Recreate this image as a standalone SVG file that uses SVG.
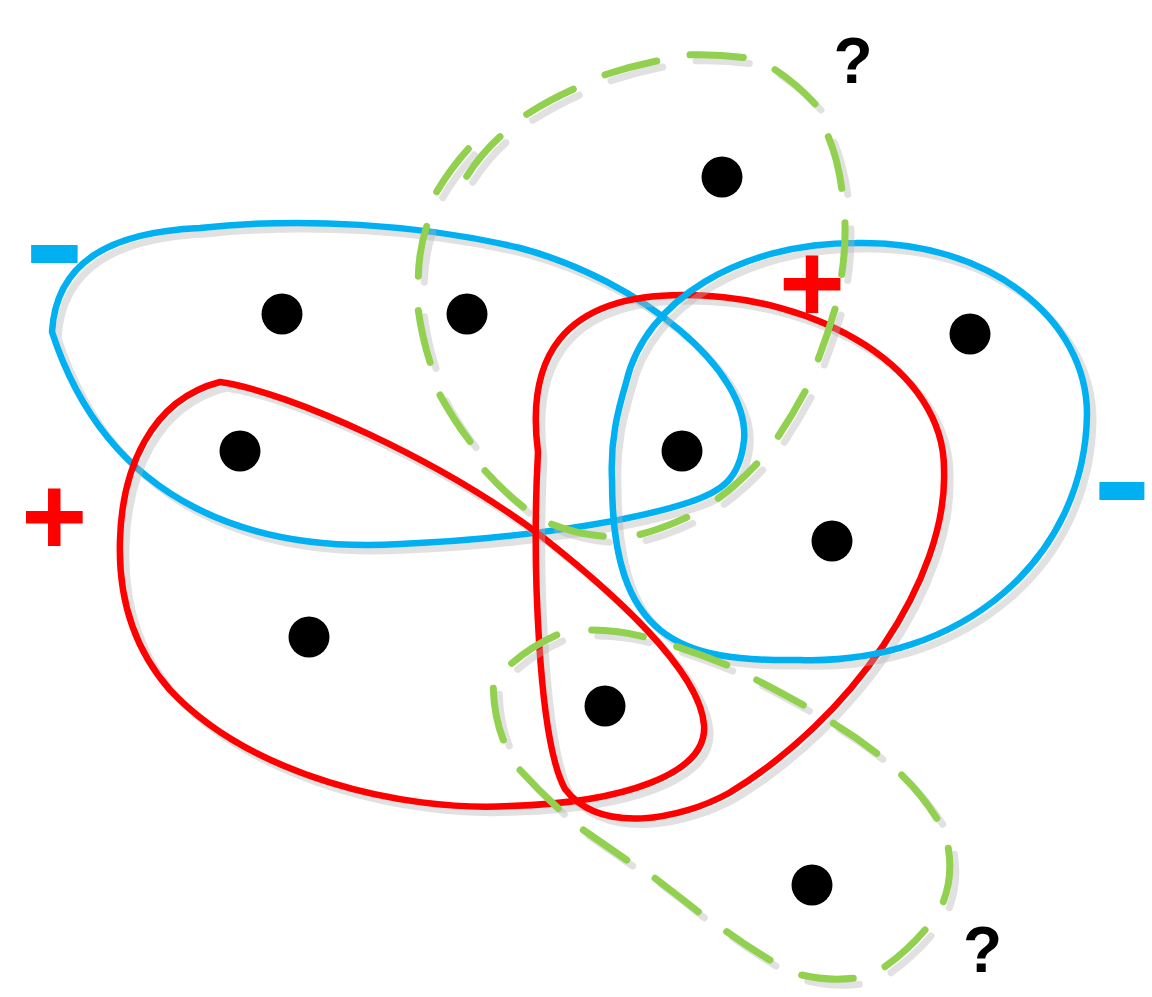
<svg xmlns="http://www.w3.org/2000/svg" xmlns:xlink="http://www.w3.org/1999/xlink" width="1152" height="997" viewBox="0 0 1152 997">
<style>
  .outline{fill:none;stroke-linecap:round;stroke-linejoin:round}
  .shadow{fill:none;stroke:#b4b4b4;stroke-opacity:0.4;stroke-width:7;stroke-linecap:round;stroke-linejoin:round}
  .blue{stroke:#00b0f0;stroke-width:6.5}
  .red{stroke:#ff0000;stroke-width:6.5}
  .green{stroke:#92d050;stroke-width:7}
  .dot{fill:#000000}
  .q{font-family:"Liberation Sans",Arial,sans-serif;font-weight:bold;font-size:64px;fill:#000000;text-anchor:middle}
  .plus{font-family:"Liberation Sans",Arial,sans-serif;font-weight:bold;font-size:113px;fill:#ff0000;text-anchor:middle}
  .minus{font-family:"Liberation Sans",Arial,sans-serif;font-weight:bold;font-size:150px;fill:#00b0f0;text-anchor:middle}
</style>
<defs>
  <path id="p-blue-left" d="M52,332 C56,262 110,232 200,228 C300,217 420,224 520,248 C640,280 750,370 744,440 C740,480 720,492 690,502 C620,525 500,540 400,544 C260,552 110,510 52,332 Z"/>
  <path id="p-red-left" d="M220,382 C290,392 440,460 540,535 C610,590 700,670 704,725 C708,775 620,803 510,806 C400,812 250,775 170,690 C135,650 118,600 120,540 C122,470 150,400 220,382 Z"/>
  <path id="p-red-right" d="M538,452 C526,360 560,295 683,295 C820,295 945,370 944,470 C948,580 850,720 729,793 C680,820 600,835 565,789 C538,740 532,560 538,452 Z"/>
  <path id="p-blue-right" d="M626,383 C645,300 740,243 856,243 C990,240 1087,320 1087,414 C1085,560 960,665 800,660 C680,662 612,640 612,480 C610,440 618,410 626,383 Z"/>
  <path id="p-green-top" d="M466.7,176.3 Q481,154 500,136.7 M526.7,114.4 Q549,100 573.3,89.2 M605,74.8 Q630,66.5 656.7,61 M690,54.8 Q717,54 743.3,57.5 M775,69.6 Q797,84 815,104 M828.3,136.7 Q838,160 841.7,188.4 M845,222.8 Q845.5,250 841.7,274.5 M835,309 Q828,334 818.3,358.9 M805,391.6 Q793,414 778.3,436.3 M756.7,463.9 Q739,483 718.3,498.3 M686.7,517.3 Q664,528 640,534.5 M603.3,536.2 Q577,534 551.7,524.2 M523.3,507 Q502,490 485,470.8 M470,441.5 Q453,419 440,395 M430,362.3 Q422,337 418.3,310.6 M418.3,276.2 Q419,250 426.7,226.3 M436.7,191.8 Q450,169 468.3,148.8"/>
  <path id="p-green-bottom" d="M511.7,663.3 Q532,646 556.7,635 M591.7,630 Q618,630 643.3,636.7 M676.7,646.7 Q702,655 726.7,665 M756.7,680 Q780,692 803.3,705 M833.3,723.3 Q856,737 876.7,753.3 M901.7,775 Q922,795 936.7,818.3 M948.3,848.3 Q953,876 943.3,901.7 M925,930 Q907,951 885,966.7 M853.3,978.3 Q827,981 801.7,975 M770,960 Q748,947 726.7,931.7 M698.3,911.7 Q677,895 655,878.3 M626.7,860 Q605,845 583.3,830 M558.3,808.3 Q538,790 520,770 M503.3,740 Q494,716 493.3,688.3"/>
</defs>
<rect x="0" y="0" width="1152" height="997" fill="#ffffff"/>

<g id="connectors">
  <g id="set-blue-left">
    <use xlink:href="#p-blue-left" href="#p-blue-left" class="shadow" transform="translate(6,6)"/>
    <use xlink:href="#p-blue-left" href="#p-blue-left" class="outline blue"/>
  </g>
  <g id="set-red-left">
    <use xlink:href="#p-red-left" href="#p-red-left" class="shadow" transform="translate(6,6)"/>
    <use xlink:href="#p-red-left" href="#p-red-left" class="outline red"/>
  </g>
  <g id="set-red-right">
    <use xlink:href="#p-red-right" href="#p-red-right" class="shadow" transform="translate(6,6)"/>
    <use xlink:href="#p-red-right" href="#p-red-right" class="outline red"/>
  </g>
  <g id="set-blue-right">
    <use xlink:href="#p-blue-right" href="#p-blue-right" class="shadow" transform="translate(6,6)"/>
    <use xlink:href="#p-blue-right" href="#p-blue-right" class="outline blue"/>
  </g>
  <g id="set-green-top">
    <use xlink:href="#p-green-top" href="#p-green-top" class="shadow" transform="translate(6,6)"/>
    <use xlink:href="#p-green-top" href="#p-green-top" class="outline green"/>
  </g>
  <g id="set-green-bottom">
    <use xlink:href="#p-green-bottom" href="#p-green-bottom" class="shadow" transform="translate(6,6)"/>
    <use xlink:href="#p-green-bottom" href="#p-green-bottom" class="outline green"/>
  </g>
</g>

<g id="dot-1"><circle class="dot" cx="722" cy="177" r="20.5"/></g>
<g id="dot-2"><circle class="dot" cx="282" cy="314" r="20.5"/></g>
<g id="dot-3"><circle class="dot" cx="467" cy="314" r="20.5"/></g>
<g id="dot-4"><circle class="dot" cx="240" cy="451" r="20.5"/></g>
<g id="dot-5"><circle class="dot" cx="682" cy="451" r="20.5"/></g>
<g id="dot-6"><circle class="dot" cx="970" cy="334" r="20.5"/></g>
<g id="dot-7"><circle class="dot" cx="832" cy="541" r="20.5"/></g>
<g id="dot-8"><circle class="dot" cx="309" cy="637" r="20.5"/></g>
<g id="dot-9"><circle class="dot" cx="605" cy="706" r="20.5"/></g>
<g id="dot-10"><circle class="dot" cx="812" cy="885" r="20.5"/></g>

<g id="label-minus-left"><text class="minus" transform="translate(54.5,254) scale(1.22,1)" x="0" y="39">-</text></g>
<g id="label-minus-right"><text class="minus" transform="translate(1122,490.5) scale(1.18,1)" x="0" y="39">-</text></g>
<g id="label-plus-left"><text class="plus" x="54.3" y="555.4">+</text></g>
<g id="label-plus-right"><text class="plus" x="812" y="322.4">+</text></g>
<g id="label-q-top"><text class="q" x="853" y="83">?</text></g>
<g id="label-q-bottom"><text class="q" x="982.5" y="971.5">?</text></g>
</svg>
